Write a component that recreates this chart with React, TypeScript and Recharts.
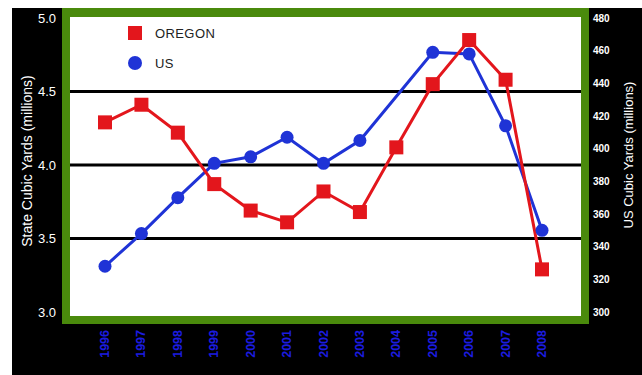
import React from 'react';
import {
  LineChart,
  Line,
  XAxis,
  YAxis,
  ReferenceLine,
  Legend,
} from 'recharts';

// Cubic yards, in millions
const years = ['1996', '1997', '1998', '1999', '2000', '2001', '2002', '2003', '2004', '2005', '2006', '2007', '2008'];
const oregonValues = [4.29, 4.41, 4.22, 3.87, 3.69, 3.61, 3.82, 3.68, 4.12, 4.55, 4.85, 4.58, 3.29];
const usValues = [328, 348, 370, 391, 395, 407, 391, 405, null, 459, 458, 414, 350];

const stateTicks = [3.0, 3.5, 4.0, 4.5, 5.0];
const usTicks = [300, 320, 340, 360, 380, 400, 420, 440, 460, 480];
const gridValues = [3.5, 4.0, 4.5];

const RED = '#e3161c';
const BLUE = '#1f33d6';
const GREEN = '#4a8a0c';
const FONT = '"Liberation Sans", Arial, sans-serif';

const series = [
  { name: 'OREGON', color: RED, shape: 'square' },
  { name: 'US', color: BLUE, shape: 'circle' },
];

const data = years.map((year, i) => ({
  year,
  oregon: oregonValues[i],
  us: usValues[i],
}));

const SquareDot = (props: any) => {
  const { cx, cy } = props;
  if (cx == null || cy == null) return null;
  return <rect x={cx - 7} y={cy - 7} width={14} height={14} fill={RED} />;
};

const YearTick = ({ x, y, payload }: any) => (
  <text
    x={x}
    y={y}
    transform={`rotate(-90, ${x}, ${y})`}
    textAnchor="end"
    dominantBaseline="central"
    fill="#1c1ce0"
    fontSize={12.5}
    fontWeight={700}
    fontFamily={FONT}
  >
    {payload.value}
  </text>
);

const renderLegend = () => (
  <div style={{ fontFamily: FONT }}>
    {series.map((s) => (
      <div key={s.name} style={{ display: 'flex', alignItems: 'center', height: 14, marginBottom: 16 }}>
        <span
          style={{
            display: 'inline-block',
            width: 14,
            height: 14,
            background: s.color,
            borderRadius: s.shape === 'circle' ? '50%' : 0,
          }}
        />
        <span style={{ marginLeft: 13, fontSize: 13, color: '#222', letterSpacing: 0.4 }}>{s.name}</span>
      </div>
    ))}
  </div>
);

export default function App() {
  return (
    <div style={{ position: 'absolute', left: 0, top: 0, width: 642, height: 375, background: '#fff' }}>
      <div style={{ position: 'absolute', left: 12, top: 8, width: 630, height: 367, background: '#000' }} />
      <div
        style={{
          position: 'absolute',
          left: 62,
          top: 8,
          width: 511,
          height: 299,
          background: '#fff',
          borderStyle: 'solid',
          borderColor: GREEN,
          borderWidth: '9px 8px 8px 8px',
        }}
      />
      <div style={{ position: 'absolute', left: 0, top: 0 }}>
        <LineChart width={642} height={375} data={data} margin={{ top: 18, right: 0, bottom: 13, left: 0 }}>
          <XAxis
            dataKey="year"
            interval={0}
            padding={{ left: 35, right: 39 }}
            axisLine={false}
            tickLine={false}
            tickSize={0}
            tickMargin={18}
            height={50}
            tick={<YearTick />}
          />
          <YAxis
            yAxisId="state"
            domain={[3, 5]}
            ticks={stateTicks}
            width={70}
            axisLine={false}
            tickLine={false}
            tickSize={0}
            tickMargin={14}
            tickFormatter={(v: number) => v.toFixed(1)}
            tick={{ fill: '#fff', fontSize: 13, fontFamily: FONT }}
            label={{
              content: ({ viewBox }: any) => {
                const cx = 27;
                const cy = viewBox.y + viewBox.height / 2 - 4;
                return (
                  <text
                    x={cx}
                    y={cy}
                    transform={`rotate(-90, ${cx}, ${cy})`}
                    textAnchor="middle"
                    dominantBaseline="central"
                    fill="#fff"
                    fontSize={14}
                    fontFamily={FONT}
                  >
                    State Cubic Yards (millions)
                  </text>
                );
              },
            }}
          />
          <YAxis
            yAxisId="us"
            orientation="right"
            domain={[300, 480]}
            ticks={usTicks}
            width={61}
            axisLine={false}
            tickLine={false}
            tickSize={0}
            tickMargin={12}
            tick={{ fill: '#fff', fontSize: 10, fontWeight: 700, fontFamily: FONT }}
            label={{
              content: ({ viewBox }: any) => {
                const cx = 628;
                const cy = viewBox.y + viewBox.height / 2 - 10;
                return (
                  <text
                    x={cx}
                    y={cy}
                    transform={`rotate(-90, ${cx}, ${cy})`}
                    textAnchor="middle"
                    dominantBaseline="central"
                    fill="#fff"
                    fontSize={13}
                    fontFamily={FONT}
                  >
                    US Cubic Yards (millions)
                  </text>
                );
              },
            }}
          />
          {gridValues.map((v) => (
            <ReferenceLine key={v} yAxisId="state" y={v} stroke="#000" strokeWidth={3} />
          ))}
          <Legend
            layout="horizontal"
            align="center"
            verticalAlign="middle"
            content={renderLegend}
            wrapperStyle={{ position: 'absolute', left: 128, top: 26, width: 'auto' }}
          />
          <Line
            yAxisId="us"
            dataKey="us"
            name="US"
            stroke={BLUE}
            strokeWidth={3}
            connectNulls
            dot={{ r: 6.5, fill: BLUE, stroke: BLUE, strokeWidth: 0 }}
            activeDot={false}
            isAnimationActive={false}
          />
          <Line
            yAxisId="state"
            dataKey="oregon"
            name="OREGON"
            stroke={RED}
            strokeWidth={3}
            dot={<SquareDot />}
            activeDot={false}
            isAnimationActive={false}
          />
        </LineChart>
      </div>
    </div>
  );
}
